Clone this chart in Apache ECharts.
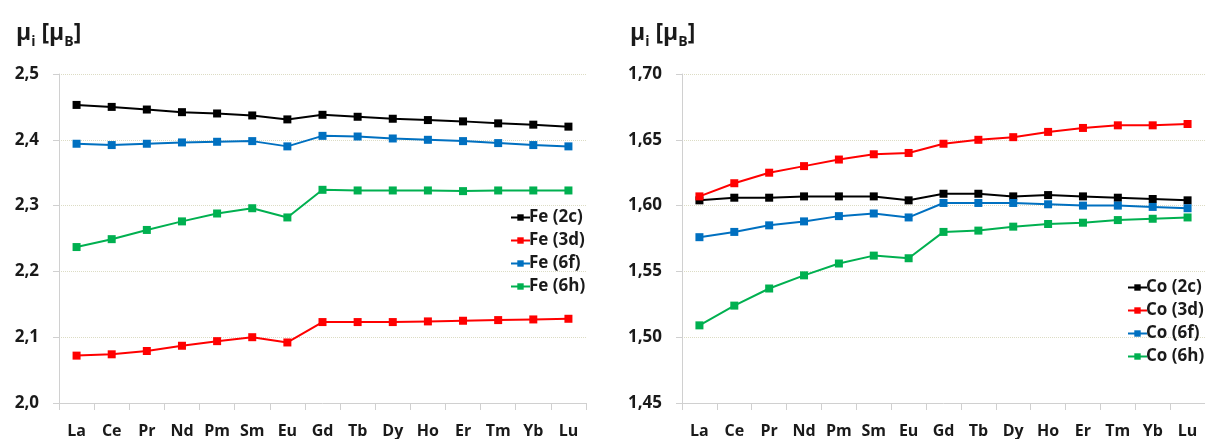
<!DOCTYPE html>
<html>
<head>
<meta charset="utf-8">
<script src="https://cdn.jsdelivr.net/npm/echarts@6/dist/echarts.min.js"></script>
<style>
html,body{margin:0;padding:0;background:#fff;}
#chart{width:1205px;height:439px;}
</style>
</head>
<body>
<div id="chart"></div>
<script>
const categories = ['La','Ce','Pr','Nd','Pm','Sm','Eu','Gd','Tb','Dy','Ho','Er','Tm','Yb','Lu'];

const fe2c = [2.453,2.450,2.446,2.442,2.440,2.437,2.431,2.438,2.435,2.432,2.430,2.428,2.425,2.423,2.420];
const fe3d = [2.072,2.074,2.079,2.087,2.094,2.100,2.092,2.123,2.123,2.123,2.124,2.125,2.126,2.127,2.128];
const fe6f = [2.394,2.392,2.394,2.396,2.397,2.398,2.390,2.406,2.405,2.402,2.400,2.398,2.395,2.392,2.390];
const fe6h = [2.237,2.249,2.263,2.276,2.288,2.296,2.282,2.324,2.323,2.323,2.323,2.322,2.323,2.323,2.323];

const co2c = [1.604,1.606,1.606,1.607,1.607,1.607,1.604,1.609,1.609,1.607,1.608,1.607,1.606,1.605,1.604];
const co3d = [1.607,1.617,1.625,1.630,1.635,1.639,1.640,1.647,1.650,1.652,1.656,1.659,1.661,1.661,1.662];
const co6f = [1.576,1.580,1.585,1.588,1.592,1.594,1.591,1.602,1.602,1.602,1.601,1.600,1.600,1.599,1.598];
const co6h = [1.509,1.524,1.537,1.547,1.556,1.562,1.560,1.580,1.581,1.584,1.586,1.587,1.589,1.590,1.591];

const feNames = ['Fe (2c)','Fe (3d)','Fe (6f)','Fe (6h)'];
const coNames = ['Co (2c)','Co (3d)','Co (6f)','Co (6h)'];
const colors = ['#000000','#ff0000','#0070c0','#00b050'];

const FONT = '"Open Sans", "Noto Sans", sans-serif';
const TXT = '#1a1a1a';

const chart = echarts.init(document.getElementById('chart'), null, {renderer:'canvas'});

function mkSeries(name, data, idx, axisIdx){
  return {
    name: name, type: 'line', data: data,
    xAxisIndex: axisIdx, yAxisIndex: axisIdx,
    symbol: 'rect', symbolSize: 8,
    lineStyle: {width: 2, color: colors[idx]},
    itemStyle: {color: colors[idx]},
    animation: false
  };
}

const titleRich = {
  a: {fontFamily: FONT, fontWeight: 'bold', fontSize: 23, color: TXT, lineHeight: 28, verticalAlign: 'bottom'},
  s: {fontFamily: FONT, fontWeight: 'bold', fontSize: 14, color: TXT, lineHeight: 28, verticalAlign: 'bottom', padding: [0,0,-4,0]}
};
const titleText = '{a|μ}{s|i}{a| [μ}{s|B}{a|]}';

function yAxisCfg(min, max, interval, digits, idx){
  return {
    type: 'value', gridIndex: idx, min: min, max: max, interval: interval,
    axisLine: {show: true, lineStyle: {color: '#d0d0d0', width: 1}},
    axisTick: {show: true, length: 6, lineStyle: {color: '#d0d0d0'}},
    splitLine: {show: true, lineStyle: {color: '#dcdcc4', type: 'dotted', width: 1}},
    axisLabel: {
      margin: 20, fontFamily: FONT, fontWeight: 'bold', fontSize: 17, color: TXT,
      formatter: v => v.toFixed(digits).replace('.', ',')
    }
  };
}
function xAxisCfg(idx){
  return {
    type: 'category', gridIndex: idx, data: categories, boundaryGap: true,
    axisLine: {show: true, lineStyle: {color: '#d0d0d0', width: 1}},
    axisTick: {show: true, length: 7, inside: false, lineStyle: {color: '#d0d0d0'}},
    splitLine: {show: false},
    axisLabel: {margin: 20, fontFamily: FONT, fontWeight: 'bold', fontSize: 16, color: TXT, interval: 0}
  };
}

const option = {
  backgroundColor: '#ffffff',
  animation: false,
  title: [
    {text: titleText, left: 11, top: 12, textStyle: {rich: titleRich}},
    {text: titleText, left: 625, top: 12, textStyle: {rich: titleRich}}
  ],
  legend: [
    {
      data: feNames, orient: 'vertical', left: 505, top: 204, itemGap: 6,
      itemWidth: 19, itemHeight: 8,
      textStyle: {fontFamily: FONT, fontWeight: 'bold', fontSize: 17, color: TXT, padding: [0,0,0,-6]}
    },
    {
      data: coNames, orient: 'vertical', left: 1122, top: 274, itemGap: 6,
      itemWidth: 19, itemHeight: 8,
      textStyle: {fontFamily: FONT, fontWeight: 'bold', fontSize: 17, color: TXT, padding: [0,0,0,-6]}
    }
  ],
  grid: [
    {left: 59, top: 74, width: 527, height: 329, containLabel: false},
    {left: 682, top: 74, width: 527, height: 329, containLabel: false}
  ],
  xAxis: [xAxisCfg(0), xAxisCfg(1)],
  yAxis: [yAxisCfg(2.0, 2.5, 0.1, 1, 0), yAxisCfg(1.45, 1.70, 0.05, 2, 1)],
  series: [
    mkSeries(feNames[0], fe2c, 0, 0),
    mkSeries(feNames[1], fe3d, 1, 0),
    mkSeries(feNames[2], fe6f, 2, 0),
    mkSeries(feNames[3], fe6h, 3, 0),
    mkSeries(coNames[0], co2c, 0, 1),
    mkSeries(coNames[1], co3d, 1, 1),
    mkSeries(coNames[2], co6f, 2, 1),
    mkSeries(coNames[3], co6h, 3, 1)
  ]
};
chart.setOption(option);
</script>
</body>
</html>
